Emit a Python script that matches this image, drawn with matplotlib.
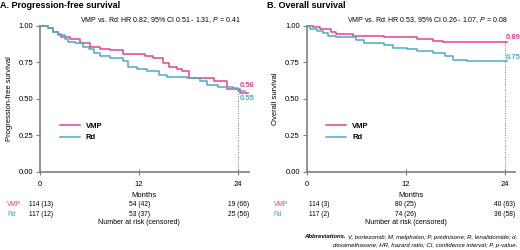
import matplotlib
matplotlib.use("Agg")
import matplotlib.pyplot as plt
import matplotlib.transforms as mtransforms

plt.rcParams['font.family'] = ['Liberation Sans', 'DejaVu Sans']
plt.rcParams['mathtext.fontset'] = 'custom'
plt.rcParams['mathtext.rm'] = 'Liberation Sans'
plt.rcParams['mathtext.it'] = 'Liberation Sans:italic'

PINK = '#e5438c'
BLUE = '#4fa9c6'
GREY = '#7f7f7f'

# progression-free survival (months, survival probability)
pfs_vmp_t = [0, 1.0, 1.6, 2.2, 2.6, 3.6, 4.8, 6.1, 7.3, 8.5, 10.1, 12.7, 13.7, 14.9, 15.6,
             16.6, 17.2, 18.0, 21.0, 22.6, 24.2, 25.2]
pfs_vmp_s = [1.0, 0.985, 0.96, 0.94, 0.925, 0.907, 0.884, 0.857, 0.84, 0.834, 0.807, 0.793,
             0.777, 0.743, 0.72, 0.70, 0.686, 0.64, 0.618, 0.566, 0.535, 0.535]
pfs_rd_t = [0, 1.0, 1.6, 2.2, 3.0, 3.4, 4.2, 5.2, 5.9, 6.5, 7.3, 8.5, 10.1, 10.7, 11.7, 12.9,
            14.4, 15.4, 17.8, 19.4, 20.2, 21.6, 23.4, 24.0, 24.8]
pfs_rd_s = [1.0, 0.985, 0.96, 0.935, 0.91, 0.89, 0.88, 0.857, 0.84, 0.81, 0.79, 0.777, 0.755,
            0.72, 0.70, 0.686, 0.66, 0.65, 0.64, 0.618, 0.595, 0.58, 0.572, 0.55, 0.55]

# overall survival
os_vmp_t = [0, 0.8, 1.6, 3.0, 3.6, 5.6, 9.3, 13.3, 15.3, 16.5, 24.2]
os_vmp_s = [1.0, 0.99, 0.975, 0.96, 0.943, 0.93, 0.92, 0.91, 0.897, 0.886, 0.886]
os_rd_t = [0, 0.4, 1.2, 2.0, 2.6, 3.6, 6.0, 6.9, 9.3, 10.5, 12.1, 13.3, 15.3, 16.7, 17.7, 19.4, 24.2]
os_rd_s = [1.0, 0.98, 0.966, 0.95, 0.93, 0.92, 0.90, 0.884, 0.868, 0.85, 0.84, 0.827, 0.816,
           0.79, 0.766, 0.755, 0.755]

risk_times = [0, 12, 24]
pfs_risk_vmp = ['114 (13)', '54 (42)', '19 (66)']
pfs_risk_rd = ['117 (12)', '53 (37)', '25 (56)']
os_risk_vmp = ['114 (3)', '80 (25)', '40 (63)']
os_risk_rd = ['117 (2)', '74 (26)', '36 (58)']

W, H = 520, 250
fig = plt.figure(figsize=(5.2, 2.5), dpi=100)


def fx(px):
    return px / W


def fy(py):
    return 1 - py / H


def panel(x0, x1, title, ylabel, hr, vmp_t, vmp_s, rd_t, rd_s, risk_vmp, risk_rd,
          end_labels, first_dx):
    ax = fig.add_axes([fx(x0), fy(171.5), fx(x1) - fx(x0), fy(25.7) - fy(171.5)])
    xmax = 24 * (x1 - x0) / 198.3
    ax.set_xlim(0, xmax)
    ax.set_ylim(0, 1)
    ax.step(vmp_t, vmp_s, where='post', color=PINK, lw=1.1, label='VMP', clip_on=False, zorder=3)
    ax.step(rd_t, rd_s, where='post', color=BLUE, lw=1.1, label='Rd', clip_on=False, zorder=3)
    ax.plot([24, 24], [0, max(vmp_s[-1], rd_s[-1])], ls=(0, (1, 1.5)), color=GREY, lw=0.7)
    for s in ['top', 'right']:
        ax.spines[s].set_visible(False)
    for s in ['left', 'bottom']:
        ax.spines[s].set_color(GREY)
        ax.spines[s].set_linewidth(1.2)
    ax.set_yticks([0, 0.25, 0.5, 0.75, 1.0])
    ax.set_yticklabels(['0.00', '0.25', '0.50', '0.75', '1.00'])
    ax.set_xticks(risk_times)
    ax.tick_params(axis='y', length=3, width=0.8, color=GREY, labelsize=5.5, pad=2)
    ax.tick_params(axis='x', direction='inout', length=4, width=0.8, color=GREY,
                   labelsize=5.5, pad=5)
    ax.set_xlabel('Months', fontsize=5.5, labelpad=3)
    ax.set_ylabel(ylabel, fontsize=5.5, labelpad=4)
    leg = ax.legend(loc='upper left', bbox_to_anchor=(0.08, 0.355), frameon=False,
                    fontsize=5.5, handlelength=2.6, labelspacing=0.5, borderaxespad=0)
    for t in leg.get_texts():
        t.set_fontweight('bold')
    for txt, yv, c in end_labels:
        ax.text(24.15, yv, txt, color=c, fontsize=5.5, fontweight='bold', va='center', ha='left')

    fig.text(fx(x0 - 40), fy(6), title, fontsize=6.5, fontweight='bold', va='center')
    fig.text(fx((x0 + x1) / 2 + 16), fy(20), hr, fontsize=5.0, ha='center', va='center')

    tr = mtransforms.blended_transform_factory(ax.transData, fig.transFigure)
    fig.text(fx(x0 - 33), fy(205), 'VMP', color=PINK, fontsize=4.8, va='center')
    fig.text(fx(x0 - 33), fy(214), 'Rd', color=BLUE, fontsize=4.8, va='center')
    for i, t in enumerate(risk_times):
        if i == 0:
            xx, ha = first_dx, 'left'
        else:
            xx, ha = t, 'center'
        fig.text(xx, fy(205), risk_vmp[i], fontsize=4.8, ha=ha, va='center', transform=tr)
        fig.text(xx, fy(214), risk_rd[i], fontsize=4.8, ha=ha, va='center', transform=tr)
    fig.text(12, fy(223), 'Number at risk (censored)', fontsize=5, ha='center', va='center',
             transform=tr)
    return ax


panel(40, 249, 'A. Progression-free survival', 'Progression-free survival',
      r'VMP vs. Rd: HR 0.82, 95% CI 0.51 - 1.31, $\mathit{P}$ = 0.41',
      pfs_vmp_t, pfs_vmp_s, pfs_rd_t, pfs_rd_s, pfs_risk_vmp, pfs_risk_rd,
      [('0.56', 0.59, PINK), ('0.55', 0.50, BLUE)], -1.3)
panel(306.7, 515, 'B. Overall survival', 'Overall survival',
      r'VMP vs. Rd: HR 0.53, 95% CI 0.26 - 1.07, $\mathit{P}$ = 0.08',
      os_vmp_t, os_vmp_s, os_rd_t, os_rd_s, os_risk_vmp, os_risk_rd,
      [('0.89', 0.92, PINK), ('0.75', 0.785, BLUE)], 0.3)

# abbreviations footnote
line1 = 'V, bortezomib; M, melphalan; P, prednisone; R, lenalidomide; d,'
line2 = 'dexamethasone; HR, hazard ratio; CI, confidence interval; P, p-value.'
t1 = fig.text(fx(517), fy(237), line1, fontsize=4.3, style='italic', ha='right', va='center')
fig.text(fx(517), fy(245), line2, fontsize=4.3, style='italic', ha='right', va='center')
fig.canvas.draw()
bb = t1.get_window_extent()
fig.text(bb.x0 / fig.bbox.width, fy(237), 'Abbreviations. ', fontsize=4.3, style='italic',
         fontweight='bold', ha='right', va='center')

fig.savefig('out.png', dpi=100)
